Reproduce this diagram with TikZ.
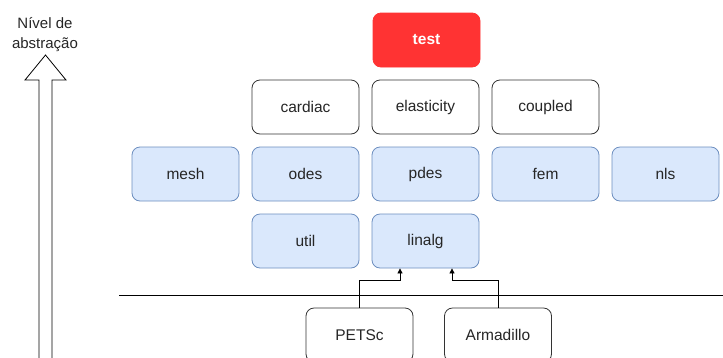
\documentclass[tikz,border=0pt]{standalone}
\usepackage{fontspec}
\setmainfont{Liberation Sans}
\usetikzlibrary{arrows.meta}
\definecolor{bluefill}{HTML}{DAE8FC}
\definecolor{bluedraw}{HTML}{6C8EBF}
\definecolor{redfill}{HTML}{FF3333}
\definecolor{darkline}{HTML}{333333}
\tikzset{
  box/.style={rounded corners=8pt, minimum width=107pt, minimum height=54pt, inner sep=0pt, font=\fontsize{15.5pt}{18pt}\selectfont, line width=0.8pt},
  bluebox/.style={box, draw=bluedraw, fill=bluefill, text=black!85},
  whitebox/.style={box, draw=darkline, fill=white, text=black!85},
  redbox/.style={box, draw=redfill, fill=redfill, text=white, font=\fontsize{15.5pt}{18pt}\selectfont\bfseries},
  conn/.style={draw=black, line width=0.8pt, -{Triangle[length=5pt,width=5pt]}},
}
\begin{document}
\begin{tikzpicture}[x=1pt,y=-1pt]
\useasboundingbox (0,0) rectangle (723,357);
% rows: 13-67, 80-134, 147-201, 214-268
\node[redbox] (test) at (426.5,40) {test};
\node[whitebox] (cardiac) at (305.5,107) {cardiac};
\node[whitebox] (elasticity) at (425.5,107) {elasticity};
\node[whitebox] (coupled) at (545.5,107) {coupled};
\node[bluebox] (mesh) at (185.5,174) {mesh};
\node[bluebox] (odes) at (305.5,174) {odes};
\node[bluebox] (pdes) at (425.5,174) {pdes};
\node[bluebox] (fem) at (545.5,174) {fem};
\node[bluebox] (nls) at (665.5,174) {nls};
\node[bluebox] (util) at (305.5,241) {util};
\node[bluebox] (linalg) at (425.5,241) {linalg};
\node[whitebox] (petsc) at (359.5,335) {PETSc};
\node[whitebox] (arma) at (498,335) {Armadillo};
% separator line
\coordinate (lineL) at (119,295);
\coordinate (lineR) at (723,295);
\draw[line width=0.8pt] (lineL) -- (lineR);
% connectors
\draw[conn] (petsc.north) -- ++(0,-27) -| ([xshift=-25.5pt]linalg.south);
\draw[conn] (arma.north) -- ++(0,-27) -| ([xshift=26.5pt]linalg.south);
% abstraction arrow
\draw[line width=0.8pt, fill=white, line join=miter]
  (39,360) -- (39,80) -- (25,80) -- (45.5,55) -- (66,80) -- (52,80) -- (52,360);
\node[align=center, font=\fontsize{15pt}{20pt}\selectfont, text=black!85, inner sep=0pt] (lbl) at (45,35) {Nível de\\abstração};
\end{tikzpicture}
\end{document}
